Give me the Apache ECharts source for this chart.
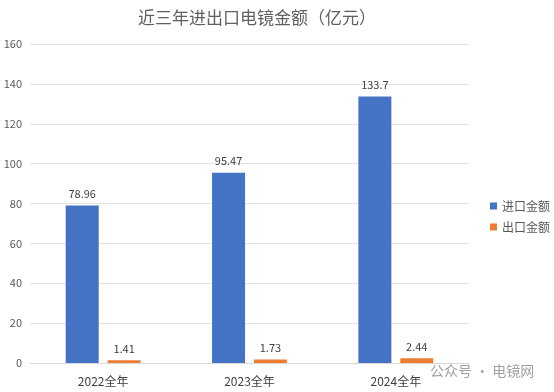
<!DOCTYPE html>
<html><head><meta charset="utf-8">
<script src="https://cdn.jsdelivr.net/npm/echarts@6/dist/echarts.min.js"></script>
<style>html,body{margin:0;padding:0;background:#fff}#c{width:554px;height:392px}</style>
</head><body><div id="c"></div>
<script>
const categories = ['2022全年', '2023全年', '2024全年'];
const importValues = [78.96, 95.47, 133.7];
const exportValues = [1.41, 1.73, 2.44];
const seriesNames = ['进口金额', '出口金额'];
const titleText = '近三年进出口电镜金额（亿元）';

const chart = echarts.init(document.getElementById('c'));
const font = '"Microsoft YaHei","Noto Sans CJK SC",sans-serif';
const label = {show: true, position: 'top', color: '#404040', fontSize: 11, fontFamily: font, distance: 6};
chart.setOption({
  animation: false,
  title: {text: titleText, left: 252, textAlign: 'center', top: 4,
    textStyle: {color: '#606060', fontSize: 17, fontWeight: 'normal', fontFamily: font}},
  legend: {orient: 'vertical', left: 485, top: 195, itemWidth: 7, itemHeight: 7, itemGap: 9,
    icon: 'rect', textStyle: {color: '#595959', fontSize: 12, fontFamily: font}, data: seriesNames},
  grid: {left: 30, right: 85, top: 44, bottom: 29},
  xAxis: {type: 'category', data: categories,
    axisLine: {lineStyle: {color: '#d9d9d9'}}, axisTick: {show: false},
    axisLabel: {color: '#404040', fontSize: 12, fontFamily: font, margin: 12}},
  yAxis: {type: 'value', min: 0, max: 160, interval: 20,
    axisLine: {show: false}, axisTick: {show: false},
    splitLine: {lineStyle: {color: '#e3e3e3'}},
    axisLabel: {color: '#595959', fontSize: 11, fontFamily: font, margin: 8}},
  series: [
    {name: seriesNames[0], type: 'bar', data: importValues, barWidth: 33, barGap: '27%',
      itemStyle: {color: '#4472C4'}, label: label},
    {name: seriesNames[1], type: 'bar', data: exportValues, barWidth: 33,
      itemStyle: {color: '#ED7D31'}, label: label}
  ],
  graphic: [{type: 'text', left: 430, top: 364,
    style: {text: '公众号 · 电镜网', fill: '#a0a0a0', font: '14px ' + font}}]
});
</script></body></html>
